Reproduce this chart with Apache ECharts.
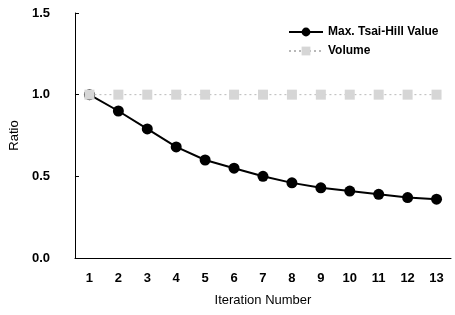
<!DOCTYPE html>
<html>
<head>
<meta charset="utf-8">
<script src="https://cdn.jsdelivr.net/npm/echarts@6/dist/echarts.min.js"></script>
<style>
  html, body { margin: 0; padding: 0; background: #fff; }
  #main { width: 455px; height: 315px; }
</style>
</head>
<body>
<div id="main"></div>
<script>
// data
var iterations = ['1', '2', '3', '4', '5', '6', '7', '8', '9', '10', '11', '12', '13'];
var tsaiHill = [1.0, 0.90, 0.79, 0.68, 0.60, 0.55, 0.50, 0.46, 0.43, 0.41, 0.39, 0.37, 0.36];
var volume = [1, 1, 1, 1, 1, 1, 1, 1, 1, 1, 1, 1, 1];
var yTicks = [0, 0.5, 1.0, 1.5];

var font = 'Liberation Sans, Arial, sans-serif';
var myChart = echarts.init(document.getElementById('main'));

var option = {
    animation: false,
    backgroundColor: '#fff',
    textStyle: { fontFamily: font },
    grid: { left: 74, right: 4, top: 13, bottom: 57 },
    legend: {
        orient: 'vertical',
        left: 283,
        top: 21,
        itemWidth: 34,
        itemHeight: 11,
        itemGap: 7,
        textStyle: { fontFamily: font, fontSize: 12, fontWeight: 'bold', color: '#000' },
        data: ['Max. Tsai-Hill Value', 'Volume']
    },
    xAxis: {
        type: 'category',
        data: iterations,
        boundaryGap: true,
        name: 'Iteration Number',
        nameLocation: 'middle',
        nameGap: 36,
        nameTextStyle: { fontFamily: font, fontSize: 13, color: '#000' },
        axisLine: { lineStyle: { color: '#000', width: 1 } },
        axisTick: { inside: true, length: 3, lineStyle: { color: '#000' } },
        axisLabel: { margin: 14, fontFamily: font, fontSize: 13, fontWeight: 'bold', color: '#000' },
        splitLine: { show: false }
    },
    yAxis: {
        type: 'value',
        min: yTicks[0],
        max: yTicks[yTicks.length - 1],
        interval: 0.5,
        name: 'Ratio',
        nameLocation: 'middle',
        nameGap: 47,
        nameTextStyle: { fontFamily: font, fontSize: 13, color: '#000' },
        axisLine: { show: true, lineStyle: { color: '#000', width: 1 } },
        axisTick: { show: true, inside: true, length: 4, lineStyle: { color: '#000' } },
        axisLabel: {
            margin: 25,
            fontFamily: font, fontSize: 13, fontWeight: 'bold', color: '#000',
            formatter: function (v) { return v.toFixed(1); }
        },
        splitLine: { show: false }
    },
    series: [
        {
            name: 'Max. Tsai-Hill Value',
            type: 'line',
            data: tsaiHill,
            symbol: 'circle',
            symbolSize: 11,
            itemStyle: { color: '#000' },
            lineStyle: { color: '#000', width: 2 },
            z: 2
        },
        {
            name: 'Volume',
            type: 'line',
            data: volume,
            symbol: 'rect',
            symbolSize: 10,
            itemStyle: { color: '#d6d6d6' },
            lineStyle: { color: '#b8b8b8', width: 1, type: [2, 3] },
            z: 3
        }
    ]
};

myChart.setOption(option);
</script>
</body>
</html>
